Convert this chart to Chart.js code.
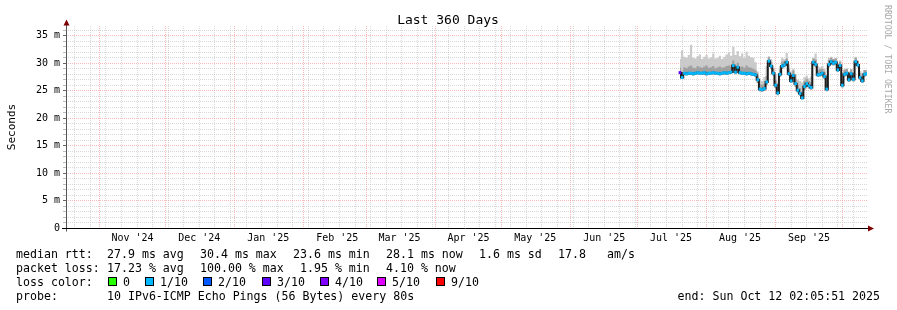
<!DOCTYPE html>
<html>
<head>
<meta charset="utf-8">
<title>Last 360 Days</title>
<script src="https://cdn.jsdelivr.net/npm/chart.js@4.4.1/dist/chart.umd.min.js"></script>
<style>
  html, body { margin: 0; padding: 0; background: #fff; }
  canvas { display: block; }
</style>
</head>
<body>
<canvas id="rttChart" width="897" height="310"></canvas>
<script>
// one sample per day, 2025-07-20 .. 2025-10-12, values in ms
const firstDay = Date.UTC(2025, 6, 20);

const median = [
  28.3, 27.4, 28.2, 28.1, 28.2, 28.2, 28.1, 28.2, 28.3, 28.2,
  28.2, 28.3, 28.1, 28.2, 28.2, 28.3, 28.2, 28.2, 28.1, 28.2,
  28.3, 28.2, 28.3, 28.4, 29.6, 28.4, 29.3, 28.3, 28.2, 28.2,
  28.1, 28.2, 28.1, 28.0, 27.9, 27.0, 25.3, 25.2, 25.4, 26.6,
  30.4, 29.5, 28.2, 26.0, 24.6, 28.0, 29.5, 29.7, 30.2, 28.1,
  26.8, 27.8, 26.3, 25.1, 24.5, 23.7, 25.8, 26.3, 25.9, 25.6,
  30.2, 29.8, 27.9, 28.0, 28.2, 27.6, 25.3, 29.8, 30.3, 30.0,
  30.2, 28.8, 29.6, 26.0, 28.0, 28.2, 27.0, 28.1, 27.1, 30.3,
  29.7, 27.4, 26.8, 28.0, 28.1
];
const smokeMin = [
  28.0, 27.2, 27.9, 27.8, 27.9, 27.9, 27.8, 27.9, 28.0, 27.9,
  27.9, 28.0, 27.8, 27.9, 27.9, 28.0, 27.9, 27.9, 27.8, 27.9,
  28.0, 27.9, 28.0, 28.1, 28.9, 28.0, 28.7, 28.0, 27.9, 27.9,
  27.8, 27.9, 27.8, 27.7, 27.5, 26.4, 24.9, 24.8, 25.0, 26.1,
  29.8, 29.0, 27.8, 25.5, 24.2, 27.5, 29.0, 29.3, 29.7, 27.7,
  26.4, 27.3, 25.8, 24.7, 24.1, 23.4, 25.2, 25.8, 25.4, 25.2,
  29.7, 29.3, 27.5, 27.6, 27.8, 27.2, 24.9, 29.3, 29.8, 29.6,
  29.8, 28.4, 29.1, 25.6, 27.6, 27.8, 26.6, 27.7, 26.7, 29.8,
  29.3, 27.0, 26.4, 27.6, 27.7
];
const smokeMid = [
  29.2, 28.4, 29.3, 29.1, 29.4, 29.6, 29.2, 29.1, 29.5, 29.3,
  29.2, 29.4, 29.6, 29.2, 29.3, 29.5, 29.1, 29.3, 29.4, 29.2,
  29.3, 29.5, 29.6, 29.4, 30.5, 29.5, 30.1, 29.3, 29.4, 29.2,
  29.6, 29.3, 29.2, 29.0, 28.8, 27.8, 26.2, 26.1, 26.3, 27.7,
  31.1, 30.3, 29.0, 26.9, 25.6, 28.9, 30.3, 30.4, 30.9, 29.0,
  27.7, 28.7, 27.2, 26.1, 25.5, 24.8, 26.8, 27.2, 26.8, 26.6,
  30.9, 30.7, 28.8, 28.9, 29.0, 28.5, 26.3, 30.6, 31.0, 30.8,
  30.9, 29.6, 30.3, 26.9, 28.8, 29.0, 27.9, 28.9, 27.9, 31.0,
  30.4, 28.2, 27.6, 28.8, 28.8
];
const smokeMax = [
  30.8, 32.4, 31.2, 31.0, 31.5, 33.4, 31.0, 30.9, 31.3, 31.6,
  30.8, 31.2, 31.5, 30.9, 31.1, 31.8, 30.9, 31.0, 31.4, 30.8,
  31.2, 31.6, 32.0, 31.4, 33.0, 31.5, 32.2, 31.3, 31.8, 31.0,
  32.1, 31.4, 31.1, 31.0, 30.2, 28.5, 27.0, 26.8, 27.5, 29.5,
  31.3, 30.8, 29.2, 28.0, 26.5, 29.5, 31.0, 30.8, 31.9, 29.8,
  28.5, 29.0, 28.0, 27.0, 26.8, 26.5, 27.5, 27.8, 27.3, 27.6,
  31.0, 31.8, 29.5, 29.3, 29.5, 29.0, 27.5, 31.0, 31.2, 30.8,
  31.0, 30.0, 30.5, 28.0, 29.0, 29.0, 28.5, 28.9, 28.3, 31.2,
  30.5, 28.6, 28.3, 28.8, 28.6
];
// lost pings out of 10
const loss = [
  3, 1, 1, 1, 1, 1, 1, 1, 1, 1,
  1, 1, 1, 1, 1, 1, 1, 1, 1, 1,
  1, 1, 1, 1, 1, 1, 1, 1, 1, 1,
  1, 1, 1, 1, 1, 1, 1, 1, 1, 1,
  1, 1, 1, 1, 1, 1, 1, 1, 1, 1,
  1, 1, 1, 1, 1, 1, 1, 1, 1, 1,
  1, 1, 1, 1, 1, 1, 1, 1, 1, 1,
  1, 1, 1, 1, 1, 1, 1, 1, 1, 1,
  1, 1, 1, 1, 1
];

const lossSteps  = [0, 1, 2, 3, 4, 5, 9];
const lossLabels = ['0', '1/10', '2/10', '3/10', '4/10', '5/10', '9/10'];
const lossColors = ['#26ff00', '#00b8ff', '#0059ff', '#5e00ff', '#7e00ff', '#dd00ff', '#ff0000'];

const monthLabels = ["Nov '24", "Dec '24", "Jan '25", "Feb '25", "Mar '25", "Apr '25",
                     "May '25", "Jun '25", "Jul '25", "Aug '25", "Sep '25"];
const yTicks = [];
for (let v = 0; v <= 36; v++) yTicks.push(v);

const DAY = 86400000;
const endTime = Date.UTC(2025, 9, 12, 2, 5, 51);
const startTime = endTime - 360 * DAY;

const mono = '"DejaVu Sans Mono", monospace';
const minorGrid = 'rgba(190,190,190,0.6)';
const majorGrid = 'rgba(245,140,140,0.6)';

const pts = arr => arr.map((v, i) => ({ x: firstDay + i * DAY, y: v }));
const lossColor = n => {
  let c = lossColors[0];
  lossSteps.forEach((s, i) => { if (n >= s) c = lossColors[i]; });
  return c;
};

function buildTimeTicks(scale) {
  const ticks = [];
  const monthStarts = [];
  for (let m = 0; m < 12; m++) monthStarts.push(Date.UTC(2024, 10 + m, 1));
  monthStarts.forEach(t => ticks.push({ value: t, kind: 'month' }));
  monthLabels.forEach((txt, i) => ticks.push({ value: monthStarts[i] + 15 * DAY, kind: 'label', text: txt }));
  // weekly minor lines on mondays
  for (let t = Date.UTC(2024, 9, 21); t < endTime; t += 7 * DAY) {
    if (!monthStarts.includes(t)) ticks.push({ value: t, kind: 'week' });
  }
  ticks.sort((a, b) => a.value - b.value);
  scale.ticks = ticks;
}

const decorations = {
  id: 'decorations',
  afterDraw(chart) {
    const { ctx, chartArea: area } = chart;
    const axisY = Math.round(area.bottom - 0.5) + 0.5;
    const axisX = Math.round(area.left - 0.5) + 0.5;
    ctx.save();

    // axes + arrows
    ctx.lineWidth = 1;
    ctx.strokeStyle = '#555';
    ctx.beginPath();
    ctx.moveTo(axisX, axisY + 3); ctx.lineTo(axisX, 23);
    ctx.stroke();
    ctx.strokeStyle = '#000';
    ctx.beginPath();
    ctx.moveTo(62, axisY); ctx.lineTo(869, axisY);
    ctx.stroke();
    ctx.fillStyle = '#7f0000';
    ctx.beginPath();
    ctx.moveTo(868, axisY - 3); ctx.lineTo(874, axisY); ctx.lineTo(868, axisY + 3);
    ctx.closePath(); ctx.fill();
    ctx.beginPath();
    ctx.moveTo(axisX - 3, 25.5); ctx.lineTo(axisX, 19.5); ctx.lineTo(axisX + 3, 25.5);
    ctx.closePath(); ctx.fill();

    ctx.fillStyle = '#000';
    ctx.textBaseline = 'alphabetic';

    // title
    ctx.font = '13px ' + mono;
    ctx.textAlign = 'center';
    ctx.fillText('Last 360 Days', 448, 24);

    // y title
    ctx.save();
    ctx.translate(15, 127);
    ctx.rotate(-Math.PI / 2);
    ctx.font = '11px ' + mono;
    ctx.fillText('Seconds', 0, 0);
    ctx.restore();

    // rrdtool watermark
    ctx.save();
    ctx.translate(885, 5);
    ctx.rotate(Math.PI / 2);
    ctx.font = '8.2px ' + mono;
    ctx.textAlign = 'left';
    ctx.fillStyle = '#a8a8a8';
    ctx.fillText('RRDTOOL / TOBI OETIKER', 0, 0);
    ctx.restore();

    // legend block
    ctx.font = '11.6px ' + mono;
    ctx.textAlign = 'left';
    const put = (txt, x, y) => ctx.fillText(txt, x, y);
    put('median rtt:', 16, 258);
    put('27.9 ms avg', 107, 258);
    put('30.4 ms max', 200, 258);
    put('23.6 ms min', 293, 258);
    put('28.1 ms now', 386, 258);
    put('1.6 ms sd', 479, 258);
    put('17.8', 558, 258);
    put('am/s', 607, 258);

    put('packet loss:', 16, 272);
    put('17.23 % avg', 107, 272);
    put('100.00 % max', 200, 272);
    put('1.95 % min', 300, 272);
    put('4.10 % now', 386, 272);

    put('loss color:', 16, 286);
    const boxX = [108, 145, 203, 262, 320, 377, 436];
    lossColors.forEach((c, i) => {
      ctx.fillStyle = c;
      ctx.fillRect(boxX[i], 277, 9, 9);
      ctx.strokeStyle = '#000';
      ctx.strokeRect(boxX[i] + 0.5, 277.5, 8, 8);
      ctx.fillStyle = '#000';
      put(lossLabels[i], boxX[i] + 15, 286);
    });

    put('probe:', 16, 300);
    put('10 IPv6-ICMP Echo Pings (56 Bytes) every 80s', 107, 300);
    ctx.textAlign = 'right';
    put('end: Sun Oct 12 02:05:51 2025', 880, 300);

    ctx.restore();
  }
};

new Chart(document.getElementById('rttChart'), {
  type: 'line',
  data: {
    datasets: [
      { label: 'smoke max', data: pts(smokeMax), fill: 2, stepped: 'middle',
        backgroundColor: '#cacaca', borderWidth: 0, pointRadius: 0, order: 5 },
      { label: 'smoke mid', data: pts(smokeMid), fill: 2, stepped: 'middle',
        backgroundColor: '#a0a0a0', borderWidth: 0, pointRadius: 0, order: 4 },
      { label: 'smoke min', data: pts(smokeMin), fill: false, stepped: 'middle',
        borderWidth: 0, pointRadius: 0, order: 6 },
      { label: 'median rtt', data: pts(median), fill: false, stepped: 'middle',
        borderColor: '#1c1c1c', borderWidth: 2, pointRadius: 0, order: 2 },
      { label: 'loss', data: pts(median), showLine: false, order: 1,
        pointStyle: 'line', pointRadius: 1.3, pointBorderWidth: 3,
        pointBorderColor: loss.map(lossColor) }
    ]
  },
  options: {
    responsive: false,
    animation: false,
    devicePixelRatio: 1,
    layout: { padding: { left: 0, top: 26, right: 30, bottom: 62 } },
    plugins: { legend: { display: false }, tooltip: { enabled: false } },
    scales: {
      x: {
        type: 'linear',
        min: startTime,
        max: endTime,
        afterBuildTicks: buildTimeTicks,
        afterFit: s => { s.height = 20; },
        ticks: {
          autoSkip: false, maxRotation: 0, padding: 4, color: '#000',
          font: { family: mono, size: 10 },
          callback: (v, i, ticks) => ticks[i].text || ''
        },
        grid: {
          drawTicks: false,
          color: c => c.tick.kind === 'month' ? majorGrid : minorGrid,
          lineWidth: c => c.tick.kind === 'label' ? 0 : 1
        },
        border: { display: false, dash: [1, 1] }
      },
      y: {
        min: 0,
        max: 36.8,
        afterBuildTicks: s => { s.ticks = yTicks.map(v => ({ value: v })); },
        afterFit: s => { s.width = 66; },
        ticks: {
          autoSkip: false, padding: 3, color: '#000',
          font: { family: mono, size: 10 },
          callback: v => v % 5 === 0 ? (v === 0 ? '0' : v + ' m') : ''
        },
        grid: {
          tickLength: 3,
          color: c => c.tick.value % 5 === 0 ? majorGrid : minorGrid,
          tickColor: c => c.tick.value % 5 === 0 ? '#666' : '#bbb'
        },
        border: { display: false, dash: [1, 1] }
      }
    }
  },
  plugins: [decorations]
});
</script>
</body>
</html>
